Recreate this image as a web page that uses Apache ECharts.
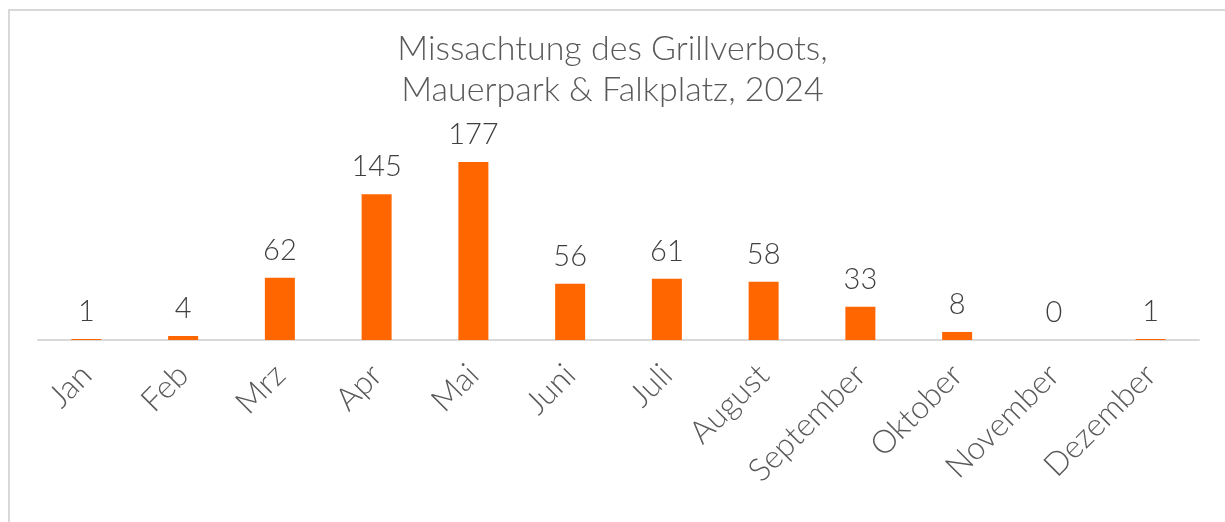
<!DOCTYPE html>
<html>
<head>
<meta charset="utf-8">
<script src="https://cdn.jsdelivr.net/npm/echarts@6/dist/echarts.min.js"></script>
<style>
  html, body { margin: 0; padding: 0; background: #fff; }
  #frame {
    position: absolute; left: 8px; top: 9px; right: 0; bottom: 0;
    border-top: 2px solid #d9d9d9; border-left: 2px solid #d9d9d9;
  }
  #chart { position: absolute; left: 0; top: 0; width: 1225px; height: 522px; }
</style>
</head>
<body>
<div id="frame"></div>
<div id="chart"></div>
<script>
var months = ['Jan', 'Feb', 'Mrz', 'Apr', 'Mai', 'Juni', 'Juli', 'August', 'September', 'Oktober', 'November', 'Dezember']
var counts = [1, 4, 62, 145, 177, 56, 61, 58, 33, 8, 0, 1]

var font = 'Lato, "Noto Sans", sans-serif'

var chart = echarts.init(document.getElementById('chart'), null, { renderer: 'canvas' })
chart.setOption({
    animation: false,
    title: {
        text: 'Missachtung des Grillverbots,\nMauerpark & Falkplatz, 2024',
        left: 'center',
        top: 24,
        textStyle: {
            color: '#595959',
            fontFamily: font,
            fontWeight: 300,
            fontSize: 34,
            lineHeight: 41
        }
    },
    grid: { left: 38, right: 26, top: 139, bottom: 182 },
    xAxis: {
        type: 'category',
        data: months,
        axisLine: { lineStyle: { color: '#d9d9d9', width: 2 } },
        axisTick: { show: false },
        axisLabel: {
            rotate: 45,
            margin: 30,
            interval: 0,
            color: '#595959',
            fontFamily: font,
            fontWeight: 300,
            fontSize: 32
        }
    },
    yAxis: {
        type: 'value',
        min: 0,
        max: 200,
        show: false,
        splitLine: { show: false }
    },
    series: [{
        type: 'bar',
        data: counts,
        barWidth: 30,
        itemStyle: { color: '#ff6600' },
        label: {
            show: true,
            position: 'top',
            distance: 13,
            color: '#404040',
            fontFamily: font,
            fontWeight: 300,
            fontSize: 29
        }
    }]
})
</script>
</body>
</html>
